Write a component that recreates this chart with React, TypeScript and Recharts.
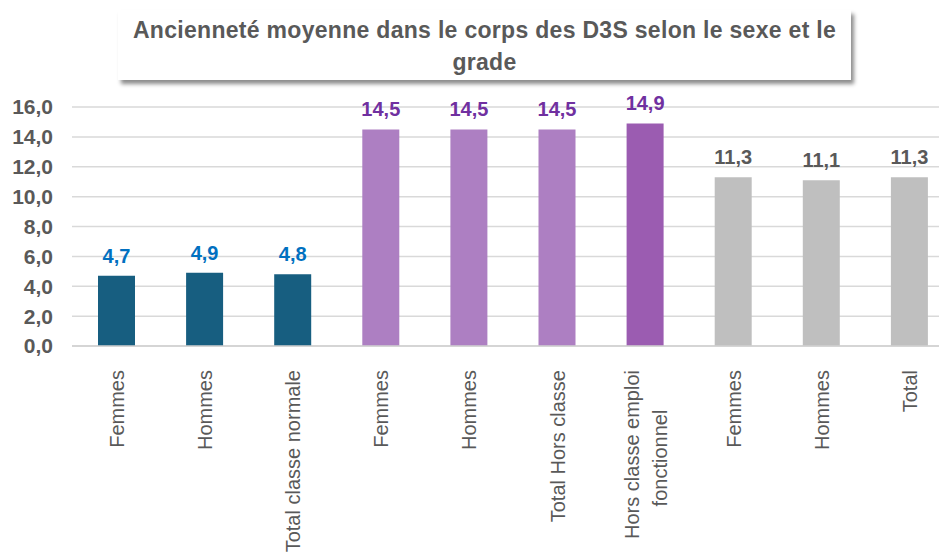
import { BarChart, Bar, XAxis, YAxis, CartesianGrid, Cell, LabelList } from 'recharts';

const categories = [
  'Femmes',
  'Hommes',
  'Total classe normale',
  'Femmes',
  'Hommes',
  'Total Hors classe',
  'Hors classe emploi fonctionnel',
  'Femmes',
  'Hommes',
  'Total',
];
const values = [4.7, 4.9, 4.8, 14.5, 14.5, 14.5, 14.9, 11.3, 11.1, 11.3];
const barColors = ['#175e80', '#175e80', '#175e80', '#ad7fc2', '#ad7fc2', '#ad7fc2', '#9b5cb1', '#bfbfbf', '#bfbfbf', '#bfbfbf'];
const labelColors = ['#0070c0', '#0070c0', '#0070c0', '#7030a0', '#7030a0', '#7030a0', '#7030a0', '#595959', '#595959', '#595959'];
const yTicks = [0, 2, 4, 6, 8, 10, 12, 14, 16];

const data = categories.map((name, i) => ({ name, value: values[i], idx: i }));

const fmt = (v: number) => v.toFixed(1).replace('.', ',');

const XTick = ({ x, y, payload }: any) => {
  const label: string = categories[payload.value];
  const lines = label === 'Hors classe emploi fonctionnel' ? ['Hors classe emploi', 'fonctionnel'] : [label];
  const fs = 20;
  if (lines.length === 1) {
    return (
      <text
        transform={`translate(${x + 8},${y + 16}) rotate(-90)`}
        textAnchor="end"
        fill="#595959"
        fontSize={fs}
        fontFamily="Liberation Sans, Arial, sans-serif"
      >
        {label}
      </text>
    );
  }
  return (
    <g>
      <text
        transform={`translate(${x - 6},${y + 16}) rotate(-90)`}
        textAnchor="end"
        fill="#595959"
        fontSize={fs}
        fontFamily="Liberation Sans, Arial, sans-serif"
      >
        {lines[0]}
      </text>
      <text
        transform={`translate(${x + 22},${y + 16 + 88}) rotate(-90)`}
        textAnchor="middle"
        fill="#595959"
        fontSize={fs}
        fontFamily="Liberation Sans, Arial, sans-serif"
      >
        {lines[1]}
      </text>
    </g>
  );
};

const BarLabel = ({ x, y, width, value, index }: any) => (
  <text
    x={x + width / 2}
    y={y - 13}
    textAnchor="middle"
    fill={labelColors[index]}
    fontSize={20}
    fontWeight="bold"
    fontFamily="Liberation Sans, Arial, sans-serif"
  >
    {fmt(value)}
  </text>
);

export default function App() {
  return (
    <div style={{ position: 'absolute', left: 0, top: 0, width: 939, height: 554, background: '#fff', overflow: 'hidden' }}>
      <BarChart
        width={939}
        height={554}
        data={data}
        margin={{ top: 107, right: -14, left: 8, bottom: 0 }}
        barSize={37}
      >
        <CartesianGrid vertical={false} stroke="#d9d9d9" strokeWidth={1.5} />
        <XAxis
          dataKey="idx"
          tick={<XTick />}
          tickLine={false}
          axisLine={{ stroke: '#d0d0d0', strokeWidth: 1.5 }}
          interval={0}
          height={208}
        />
        <YAxis
          domain={[0, 16]}
          ticks={yTicks}
          interval={0}
          tickFormatter={fmt}
          width={64}
          axisLine={false}
          tickLine={false}
          tick={{ fill: '#595959', fontSize: 21, fontWeight: 'bold', fontFamily: 'Liberation Sans, Arial, sans-serif' }}
          tickMargin={13}
        />
        <Bar dataKey="value" isAnimationActive={false}>
          {data.map((d) => (
            <Cell key={d.idx} fill={barColors[d.idx]} />
          ))}
          <LabelList dataKey="value" content={<BarLabel />} />
        </Bar>
      </BarChart>
      <div
        style={{
          position: 'absolute',
          left: 118,
          top: 10,
          width: 733,
          height: 70,
          background: '#fff',
          boxShadow: '3px 4px 4px rgba(0,0,0,0.45)',
          color: '#595959',
          fontFamily: 'Liberation Sans, Arial, sans-serif',
          fontWeight: 'bold',
          fontSize: 23,
          lineHeight: '32px',
          textAlign: 'center',
          paddingTop: 4,
          boxSizing: 'border-box',
          letterSpacing: 0.3,
        }}
      >
        Ancienneté moyenne dans le corps des D3S selon le sexe et le
        <br />
        grade
      </div>
    </div>
  );
}
